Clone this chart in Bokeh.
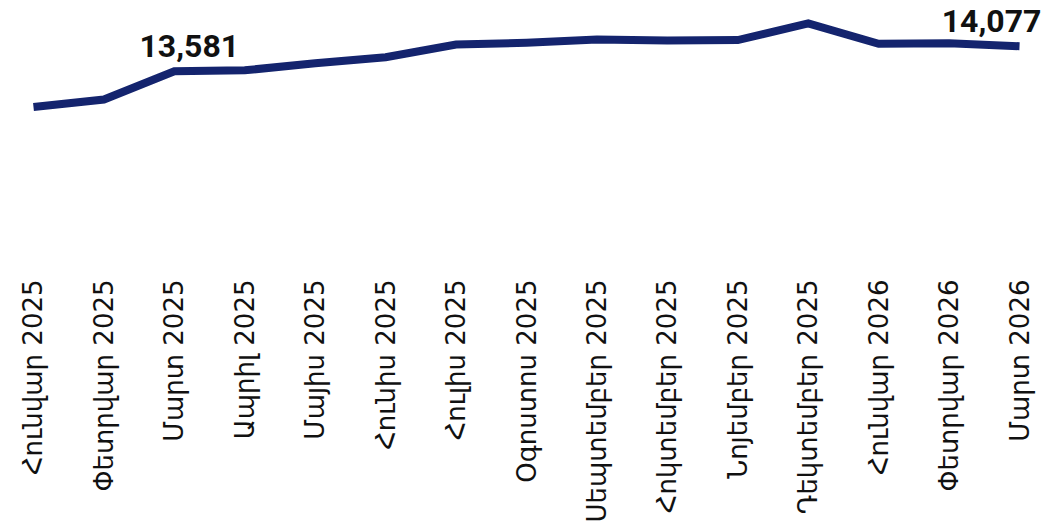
import math
from bokeh.plotting import figure
from bokeh.models import ColumnDataSource, Range1d, FixedTicker
from bokeh.core.properties import value
from bokeh.embed import file_html
from bokeh.resources import INLINE

months = ["Հունվար 2025", "Փետրվար 2025", "Մարտ 2025", "Ապրիլ 2025", "Մայիս 2025",
          "Հունիս 2025", "Հուլիս 2025", "Օգոստոս 2025", "Սեպտեմբեր 2025", "Հոկտեմբեր 2025",
          "Նոյեմբեր 2025", "Դեկտեմբեր 2025", "Հունվար 2026", "Փետրվար 2026", "Մարտ 2026"]
values = [12870, 13020, 13581, 13600, 13740, 13860, 14110, 14145, 14210, 14190,
          14200, 14530, 14125, 14135, 14077]
labelled_points = [2, 14]

idx = list(range(len(months)))

p = figure(frame_width=1034, frame_height=262, output_backend="svg", toolbar_location=None,
           x_range=Range1d(-0.369, 14.312), y_range=Range1d(9630, 14825),
           min_border_left=7, min_border_right=0, min_border_top=8, min_border_bottom=0)
p.outline_line_color = None
p.grid.visible = False
p.yaxis.visible = False
p.background_fill_color = "white"
p.border_fill_color = "white"

src = ColumnDataSource(dict(x=idx, y=values))
p.line("x", "y", source=src, line_color="#14246E", line_width=8, line_join="miter")

lab = ColumnDataSource(dict(
    x=labelled_points,
    y=[values[i] for i in labelled_points],
    text=[f"{values[i]:,}" for i in labelled_points],
    xo=[15, -28],
))
p.text("x", "y", text="text", source=lab, x_offset="xo", y_offset=-25,
       text_align="center", text_baseline="alphabetic",
       text_font=value("Roboto"), text_font_style="bold",
       text_font_size="32px", text_color="#111111")

ax = p.xaxis[0]
ax.ticker = FixedTicker(ticks=idx)
ax.major_label_overrides = {i: m for i, m in zip(idx, months)}
ax.major_label_orientation = math.pi / 2
ax.axis_line_color = None
ax.major_tick_line_color = None
ax.minor_tick_line_color = None
ax.major_tick_out = 0
ax.major_label_standoff = 9
ax.major_label_text_font = "DejaVu Sans"
ax.major_label_text_font_size = "26px"
ax.major_label_text_color = "#111111"

open("out.html", "w").write(file_html(p, INLINE))
